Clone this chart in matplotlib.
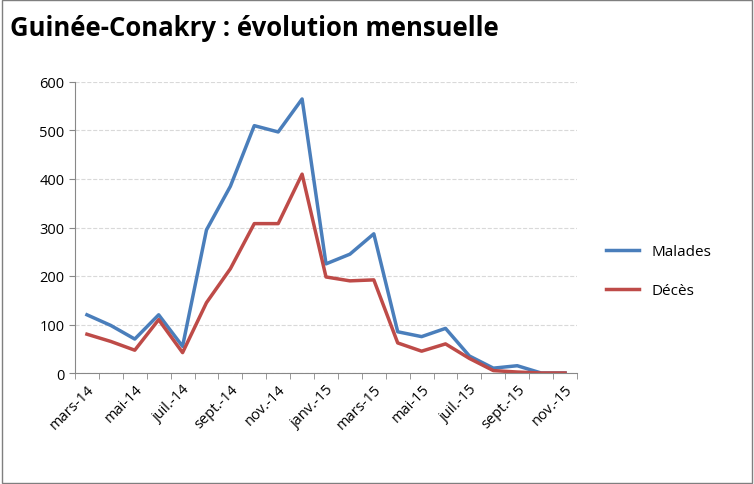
import matplotlib.pyplot as plt
from matplotlib.patches import Rectangle

months = ['mars-14', 'avr.-14', 'mai-14', 'juin-14', 'juil.-14', 'août-14', 'sept.-14', 'oct.-14',
          'nov.-14', 'déc.-14', 'janv.-15', 'févr.-15', 'mars-15', 'avr.-15', 'mai-15', 'juin-15',
          'juil.-15', 'août-15', 'sept.-15', 'oct.-15', 'nov.-15']
malades = [120, 98, 70, 120, 55, 295, 385, 510, 497, 565, 225, 245, 287, 85, 75, 92, 35, 10, 15, 0, 0]
deces = [80, 65, 47, 110, 42, 145, 215, 308, 308, 410, 198, 190, 192, 62, 45, 60, 30, 5, 2, 0, 0]

plt.rcParams['font.family'] = 'Open Sans'
fig = plt.figure(figsize=(7.54, 4.85), dpi=100)
fig.patches.append(Rectangle((0.002, 0.002), 0.996, 0.996, transform=fig.transFigure,
                             fill=False, edgecolor='#7f7f7f', lw=1))
ax = fig.add_axes([75/754, 1-374/485, 502/754, 291/485])
x = list(range(len(months)))
ax.plot(x, malades, color='#4a7ebb', lw=2.5, label='Malades')
ax.plot(x, deces, color='#be4b48', lw=2.5, label='Décès')
ax.set_xlim(-0.5, len(months) - 0.5)
ax.set_ylim(0, 600)
ax.set_yticks(range(0, 601, 100))
ax.set_xticks(x[::2])
ax.set_xticklabels(months[::2], rotation=45, ha='right', rotation_mode='anchor', fontsize=10.5)
ax.set_xticks([i - 0.5 for i in range(len(months) + 1)], minor=True)
ax.tick_params(axis='x', which='major', length=0, pad=6)
ax.tick_params(axis='x', which='minor', length=4, color='#888888')
ax.tick_params(axis='y', labelsize=10.5, length=4, color='#888888')
ax.grid(axis='y', color='#d9d9d9', ls='--', lw=0.8)
ax.set_axisbelow(True)
for s in ['top', 'right']:
    ax.spines[s].set_visible(False)
for s in ['left', 'bottom']:
    ax.spines[s].set_color('#888888')
ax.legend(loc='center left', bbox_to_anchor=(1.03, 0.35), frameon=False, fontsize=11,
          handlelength=2.2, labelspacing=1.6)
fig.text(10/754, 1-28/485, 'Guinée-Conakry : évolution mensuelle', fontsize=18.5,
         fontweight='bold', va='center')
fig.savefig('out.png')
